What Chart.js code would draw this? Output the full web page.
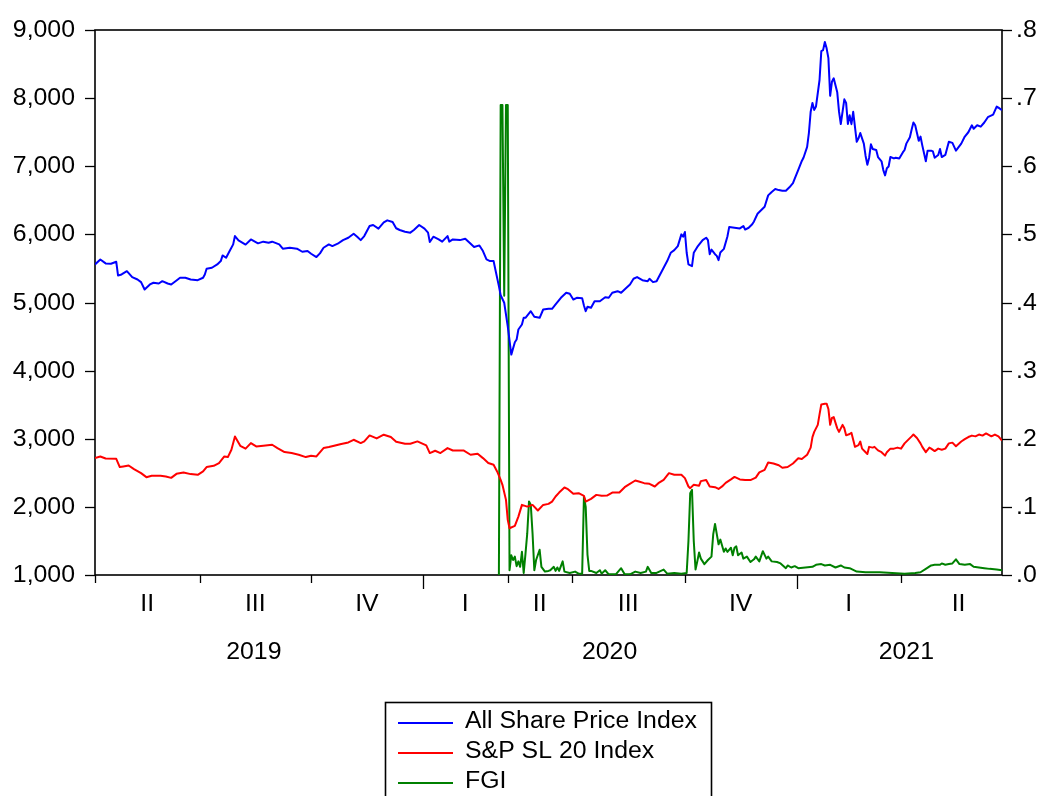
<!DOCTYPE html>
<html>
<head>
<meta charset="utf-8">
<title>All Share Price Index, S&amp;P SL 20 Index and FGI</title>
<script src="https://cdn.jsdelivr.net/npm/chart.js@4.4.0/dist/chart.umd.min.js"></script>
<style>
  html, body { margin: 0; padding: 0; background: #ffffff; overflow: hidden; }
  canvas { display: block; }
</style>
</head>
<body>
<canvas id="chart" width="1046" height="796"></canvas>
<script>
// Trading sessions counted from the start of 2019 Q2 (one session = one trading day).

// All Share Price Index (left axis)
const aspiSession = [0,3,6,9,12,13,15,18,21,24,26,28,31,33,36,38,41,43,46,48,51,54,58,61,62,63,66,69,71,72,74,76,78,79,81,85,88,92,95,98,100,104,106,110,114,117,120,122,125,127,129,132,134,137,140,143,146,148,150,152,155,157,160,163,165,168,170,172,175,178,180,183,186,188,189,191,194,196,199,200,202,206,209,211,214,217,219,221,223,225,226,228,229,231,233,235,237,238,239,241,242,243,246,248,251,253,256,258,260,263,266,268,270,272,275,276,277,278,280,282,285,288,290,292,295,297,300,302,304,306,309,312,313,315,317,319,321,323,325,327,329,331,332,333,334,335,337,338,340,343,345,346,347,348,350,351,352,353,355,357,358,361,364,366,367,369,371,372,374,376,378,380,382,384,386,388,390,392,394,395,397,399,400,402,403,404,405,406,407,409,410,411,412,413,414,415,416,417,419,420,421,423,424,425,426,427,428,430,431,432,434,435,436,437,438,439,441,442,444,445,446,447,448,449,451,452,454,456,457,458,460,461,462,463,464,465,466,467,469,470,472,473,474,476,477,478,480,482,484,486,489,491,493,495,496,498,500,502,504,507,509,510,512];
const aspiClose = [5559,5632,5574,5569,5598,5397,5412,5460,5372,5338,5299,5191,5265,5290,5279,5313,5279,5265,5323,5363,5363,5338,5328,5363,5412,5495,5510,5559,5608,5691,5657,5755,5853,5975,5912,5850,5926,5868,5893,5878,5893,5853,5790,5804,5790,5745,5755,5716,5667,5721,5804,5853,5828,5863,5916,5951,6010,5966,5916,5975,6122,6137,6084,6176,6206,6181,6090,6064,6039,6025,6064,6137,6084,6025,5887,5966,5926,5893,5975,5893,5926,5916,5936,5887,5814,5838,5755,5632,5608,5608,5485,5240,5107,4996,4651,4235,4416,4456,4603,4677,4775,4775,4872,4790,4775,4897,4907,4907,4971,5069,5143,5128,5044,5069,5064,4956,4872,4937,4922,5019,5019,5078,5069,5143,5166,5143,5216,5265,5349,5373,5328,5313,5349,5299,5313,5412,5510,5608,5730,5769,5828,6000,5966,6035,5730,5559,5534,5730,5815,5916,5951,5916,5709,5776,5709,5684,5622,5735,5787,5968,6107,6097,6087,6122,6071,6097,6148,6190,6303,6354,6406,6572,6623,6665,6650,6640,6640,6691,6753,6819,6948,7078,7129,7284,7491,7801,7930,7827,7878,8266,8690,8705,8823,8731,8587,8034,8240,8291,8085,7801,7620,7982,7930,7620,7750,7618,7799,7359,7410,7488,7332,7151,7022,7125,7322,7254,7239,7135,7073,6944,6866,6971,6996,7135,7115,7125,7115,7203,7239,7332,7425,7539,7642,7601,7488,7374,7436,7307,7073,7229,7229,7218,7125,7166,7254,7135,7166,7359,7343,7229,7332,7436,7499,7601,7550,7601,7581,7642,7720,7757,7876,7860,7824];

// S&P SL 20 Index (left axis)
const spsl20Session = [0,3,6,12,14,16,19,22,26,29,32,37,40,43,46,50,54,58,61,63,67,70,73,75,77,79,82,85,88,91,95,100,103,107,111,115,119,122,125,129,132,135,139,143,146,150,152,155,159,163,167,170,175,178,182,187,189,192,195,199,202,208,212,216,219,222,225,227,229,230,232,233,234,237,239,241,244,247,250,253,256,258,260,262,265,267,270,273,276,277,280,283,286,289,292,296,299,301,305,307,310,313,316,318,321,324,327,331,333,335,336,338,341,342,345,347,350,352,354,356,359,361,364,367,370,373,375,378,380,383,386,388,391,394,397,399,402,404,405,406,408,409,410,412,413,414,415,416,417,419,420,422,423,424,426,427,429,431,432,433,435,436,437,439,440,442,444,446,447,449,451,453,455,457,459,461,462,464,466,467,469,471,472,474,476,478,480,482,484,486,489,491,493,495,497,499,501,503,506,508,510,512];
const spsl20Close = [2716,2740,2711,2706,2584,2593,2608,2554,2495,2436,2456,2456,2446,2426,2485,2505,2481,2471,2520,2584,2603,2643,2740,2731,2838,3034,2897,2855,2936,2887,2897,2912,2863,2804,2790,2765,2731,2750,2740,2863,2878,2897,2922,2946,2985,2936,2961,3049,3005,3059,3025,2955,2926,2926,2961,2902,2790,2824,2790,2863,2828,2828,2765,2779,2716,2643,2618,2520,2397,2324,2103,1809,1686,1721,1857,2029,2004,2029,1946,2029,2044,2078,2152,2210,2284,2260,2191,2201,2162,2078,2118,2176,2162,2166,2210,2210,2289,2324,2387,2373,2348,2338,2299,2348,2397,2495,2471,2471,2422,2299,2275,2324,2310,2378,2393,2300,2289,2263,2300,2352,2403,2440,2403,2393,2393,2429,2507,2544,2652,2637,2611,2575,2585,2637,2713,2703,2765,2869,3023,3101,3204,3359,3504,3515,3515,3437,3204,3307,3318,3153,3101,3204,3153,3050,3070,3088,2881,2906,2959,2855,2803,2777,2881,2870,2881,2829,2803,2752,2803,2855,2855,2870,2855,2932,2984,3035,3062,3010,2932,2881,2803,2870,2855,2819,2855,2838,2855,2932,2943,2891,2959,2994,3025,3046,3035,3062,3046,3078,3035,3062,3035,2974];

// FGI (right axis), available from the March 2020 halt onwards
const fgiSession = [228,229,230,231,232,233,234,235,236,237,238,239,240,241,242,243,244,245,246,247,248,249,251,252,254,256,257,259,260,261,262,264,265,268,271,273,275,276,277,278,279,280,283,285,286,288,290,294,297,299,302,305,308,311,312,314,317,321,323,327,331,334,335,336,337,338,339,340,341,342,344,346,348,349,350,351,352,353,355,356,357,359,360,361,362,363,365,366,368,370,372,373,375,377,379,380,382,385,387,390,391,393,395,397,401,405,407,410,412,415,418,421,423,426,430,435,443,450,457,463,466,469,472,474,477,478,480,482,484,486,488,491,494,496,499,502,505,509,512];
const fgiValue = [0.000,0.690,0.690,0.410,0.690,0.690,0.007,0.029,0.022,0.027,0.013,0.020,0.012,0.034,0.003,0.031,0.061,0.108,0.103,0.061,0.007,0.022,0.037,0.012,0.005,0.006,0.007,0.012,0.006,0.011,0.006,0.020,0.005,0.003,0.005,0.002,0.002,0.115,0.100,0.030,0.006,0.006,0.003,0.007,0.002,0.007,0.001,0.001,0.010,0.001,0.001,0.005,0.003,0.005,0.012,0.003,0.003,0.008,0.002,0.003,0.002,0.003,0.050,0.120,0.125,0.050,0.008,0.020,0.033,0.024,0.016,0.022,0.027,0.060,0.075,0.060,0.045,0.052,0.034,0.039,0.034,0.040,0.029,0.040,0.042,0.029,0.033,0.024,0.027,0.019,0.023,0.027,0.020,0.035,0.024,0.027,0.020,0.019,0.017,0.010,0.014,0.011,0.013,0.010,0.011,0.012,0.015,0.016,0.014,0.015,0.011,0.014,0.011,0.010,0.005,0.004,0.004,0.003,0.002,0.003,0.004,0.009,0.014,0.015,0.015,0.017,0.015,0.016,0.017,0.023,0.016,0.015,0.016,0.012,0.011,0.010,0.009,0.008,0.007];

// Quarter boundaries (sessions) and their labels; the last quarter runs past the final session
const quarterBounds = [0, 59, 122, 185, 233, 269, 333, 396, 455, 520];
const quarterNames = ['II', 'III', 'IV', 'I', 'II', 'III', 'IV', 'I', 'II'];
const yearNames = ['2019', '2020', '2021'];
const yearStartQuarter = [0, 3, 7];   // index into quarterBounds where each year's span begins
const lastSession = 512;

const seriesNames = ['All Share Price Index', 'S&P SL 20 Index', 'FGI'];
const seriesColors = ['#0000ff', '#ff0000', '#008000'];

const toPoints = (xs, ys) => xs.map((s, i) => ({ x: s, y: ys[i] }));

const FONT_PX = 23;
const FONT = FONT_PX + 'px "Liberation Sans", Arial, sans-serif';
const STRETCH = 1.08;

function drawText(ctx, text, x, y, align) {
  ctx.save();
  ctx.translate(x, y);
  ctx.scale(STRETCH, 1);
  ctx.textAlign = align;
  ctx.textBaseline = 'middle';
  ctx.fillText(text, 0, 0);
  ctx.restore();
}

// Frame, axis ticks, quarter/year labels and the boxed legend
const evFrame = {
  id: 'evFrame',
  beforeDatasetsDraw(chart) {
    const { ctx, chartArea: a } = chart;
    ctx.save();
    ctx.strokeStyle = '#000';
    ctx.lineWidth = 1.6;
    ctx.strokeRect(a.left, a.top, a.right - a.left, a.bottom - a.top);
    ctx.restore();
  },
  afterDraw(chart) {
    const { ctx, chartArea: a, scales } = chart;
    const xS = scales.x, yL = scales.y, yR = scales.y1;
    ctx.save();
    ctx.strokeStyle = '#000';
    ctx.fillStyle = '#000';
    ctx.lineWidth = 1.3;
    ctx.font = FONT;

    // left axis
    yL.ticks.forEach(t => {
      const y = Math.round(yL.getPixelForValue(t.value)) + 0.5;
      ctx.beginPath(); ctx.moveTo(a.left - 10, y); ctx.lineTo(a.left, y); ctx.stroke();
      drawText(ctx, t.value.toLocaleString('en-US'), a.left - 20, y, 'right');
    });
    // right axis
    yR.ticks.forEach(t => {
      const y = Math.round(yR.getPixelForValue(t.value)) + 0.5;
      ctx.beginPath(); ctx.moveTo(a.right, y); ctx.lineTo(a.right + 10, y); ctx.stroke();
      drawText(ctx, t.value.toFixed(1).replace(/^0/, ''), a.right + 14, y, 'left');
    });
    // bottom axis: quarter ticks, longer at year starts
    quarterBounds.forEach((s, i) => {
      if (s > lastSession) return;
      const x = Math.round(xS.getPixelForValue(s)) + 0.5;
      const len = yearStartQuarter.includes(i) && i > 0 ? 14 : 8;
      ctx.beginPath(); ctx.moveTo(x, a.bottom); ctx.lineTo(x, a.bottom + len); ctx.stroke();
    });
    quarterNames.forEach((q, i) => {
      const mid = (quarterBounds[i] + quarterBounds[i + 1]) / 2;
      drawText(ctx, q, xS.getPixelForValue(mid), a.bottom + 30, 'center');
    });
    yearNames.forEach((yr, i) => {
      const from = quarterBounds[yearStartQuarter[i]];
      const to = i + 1 < yearNames.length ? quarterBounds[yearStartQuarter[i + 1]] : quarterBounds[quarterBounds.length - 1];
      drawText(ctx, yr, xS.getPixelForValue((from + to) / 2) - (i === 0 ? 5 : 0), a.bottom + 78, 'center');
    });

    // legend box
    const lx = 385, ly = 702, lw = 326, rowH = 30;
    ctx.lineWidth = 1.6;
    ctx.strokeRect(lx + 0.5, ly + 0.5, lw, 130);
    chart.data.datasets.forEach((ds, i) => {
      const y = ly + 21 + i * rowH;
      ctx.strokeStyle = ds.borderColor;
      ctx.lineWidth = 2;
      ctx.beginPath(); ctx.moveTo(lx + 13, y); ctx.lineTo(lx + 68, y); ctx.stroke();
      drawText(ctx, ds.label, lx + 80, y - 1, 'left');
    });
    ctx.restore();
  }
};

new Chart(document.getElementById('chart'), {
  type: 'line',
  data: {
    datasets: [
      { label: seriesNames[0], data: toPoints(aspiSession, aspiClose), borderColor: seriesColors[0], yAxisID: 'y' },
      { label: seriesNames[1], data: toPoints(spsl20Session, spsl20Close), borderColor: seriesColors[1], yAxisID: 'y' },
      { label: seriesNames[2], data: toPoints(fgiSession, fgiValue), borderColor: seriesColors[2], yAxisID: 'y1' }
    ]
  },
  options: {
    responsive: false,
    animation: false,
    devicePixelRatio: 1,
    layout: { padding: { top: 30, left: 0, right: 0, bottom: 0 } },
    elements: {
      point: { radius: 0, hoverRadius: 0 },
      line: { borderWidth: 2, tension: 0, fill: false, borderJoinStyle: 'round' }
    },
    plugins: { legend: { display: false }, tooltip: { enabled: false } },
    events: [],
    scales: {
      x: {
        type: 'linear', min: 0, max: lastSession,
        grid: { display: false }, border: { display: false },
        ticks: { display: false },
        afterFit(s) { s.height = 221; }
      },
      y: {
        position: 'left', min: 1000, max: 9000,
        ticks: { display: false, stepSize: 1000 },
        grid: { display: false }, border: { display: false },
        afterFit(s) { s.width = 95; }
      },
      y1: {
        position: 'right', min: 0, max: 0.8,
        ticks: { display: false, stepSize: 0.1 },
        grid: { display: false }, border: { display: false },
        afterFit(s) { s.width = 44; }
      }
    }
  },
  plugins: [evFrame]
});
</script>
</body>
</html>
